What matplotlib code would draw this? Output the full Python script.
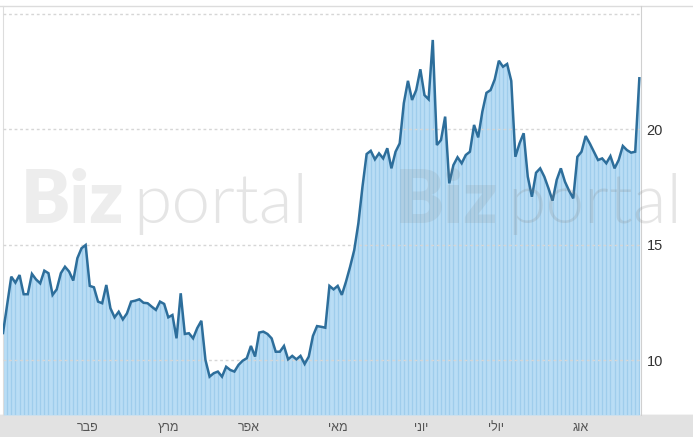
import numpy as np
import matplotlib.pyplot as plt
from matplotlib.patches import Rectangle
from matplotlib.lines import Line2D

# closing prices, one per trading day
prices = [
    11.18, 12.4, 13.62, 13.36, 13.69, 12.86, 12.86, 13.74, 13.5, 13.33, 13.88, 13.77,
    12.83, 13.07, 13.77, 14.05, 13.84, 13.45, 14.42, 14.85, 14.99, 13.22, 13.16, 12.54,
    12.47, 13.26,
    12.25, 11.86, 12.1, 11.77, 12.03, 12.54, 12.58, 12.64, 12.49, 12.47, 12.32, 12.18,
    12.54, 12.44, 11.86, 11.96, 10.95, 12.9, 11.14, 11.17, 10.95, 11.39, 11.71, 10.01,
    9.29, 9.44,
    9.51, 9.29, 9.72, 9.58, 9.51, 9.8, 9.98, 10.09, 10.62, 10.16, 11.2, 11.24, 11.14,
    10.95, 10.37, 10.37, 10.62, 10.04, 10.19, 10.04, 10.19, 9.84, 10.16, 11.05, 11.48,
    11.45, 11.41, 13.22, 13.07, 13.22,
    12.83, 13.4, 14.05, 14.77, 15.93, 17.52, 18.93, 19.07, 18.7, 18.96, 18.74, 19.18,
    18.31, 19.03, 19.39, 21.13, 22.1, 21.27, 21.7, 22.6, 21.48, 21.3, 23.87, 19.32,
    19.54, 20.55, 17.66, 18.45, 18.79, 18.53, 18.89, 19.03, 20.19, 19.65, 20.76, 21.58,
    21.7, 22.16, 22.97, 22.71, 22.83, 22.1, 18.81, 19.39, 19.83, 17.95, 17.08,
    18.12, 18.31, 17.95, 17.45, 16.91, 17.81, 18.31, 17.73, 17.34, 17.01, 18.81, 19.03,
    19.71, 19.39, 19.03, 18.67, 18.74, 18.53, 18.84, 18.31, 18.67, 19.28, 19.1, 18.99,
    19.03, 22.21,
]
months = ["פבר", "מרץ", "אפר", "מאי", "יוני", "יולי", "אוג"]
month_pos = [20.4, 40.1, 59.4, 81.0, 101.2, 119.2, 139.9]
yticks = [10, 15, 20]

plt.rcParams['font.family'] = ['Liberation Sans', 'DejaVu Sans']

W, H = 693, 440
fig = plt.figure(figsize=(W / 100, H / 100), dpi=100)

# gray date band under the plot
fig.patches.append(Rectangle((0, 3 / H), 1, 22 / H, transform=fig.transFigure,
                             facecolor="#e2e2e2", edgecolor="none", zorder=0))
fig.lines.append(Line2D([0, 1], [25 / H, 25 / H], transform=fig.transFigure,
                        color="#c4c4c4", lw=1, zorder=0))
# top border
fig.lines.append(Line2D([0, 1], [434 / H, 434 / H], transform=fig.transFigure,
                        color="#dcdcdc", lw=1, zorder=0))

ax = fig.add_axes([3 / W, 25 / H, 638 / W, 409 / H])
ax.set_zorder(2)
ax.patch.set_alpha(0)
x = np.arange(len(prices))
ymin, ymax = 7.63, 25.34
ax.set_xlim(0, len(prices) - 1 + 0.4)
ax.set_ylim(ymin, ymax)

ax.fill_between(x, ymin, prices, color="#b9ddf5", lw=0, zorder=1)
ax.vlines(x, ymin, prices, color="#9fcdec", lw=0.9, zorder=2)
ax.plot(x, prices, color="#2d6e9b", lw=1.8, zorder=4, solid_joinstyle="miter")

for v in [10, 15, 20, 25]:
    ax.axhline(v, color="#d6d6d6", lw=1, ls=(0, (2, 2)), zorder=3)

ax.yaxis.tick_right()
ax.set_yticks(yticks)
ax.set_yticklabels([str(t) for t in yticks], fontsize=10.5, color="#333333")
ax.tick_params(axis="y", length=0, pad=4)
ax.set_xticks(month_pos)
# matplotlib lays glyphs out left to right, so reverse the Hebrew for display
ax.set_xticklabels([m[::-1] for m in months], fontsize=9, color="#555555")
ax.tick_params(axis="x", length=0, pad=5)

for s in ["top", "bottom"]:
    ax.spines[s].set_visible(False)
ax.spines["left"].set_color("#dddddd")
ax.spines["right"].set_color("#d0d0d0")

# watermark
for x0 in [21, 395]:
    fig.text(x0 / W, (H - 223) / H, "Biz", fontsize=53, family="Lato",
             fontweight="heavy", color="#808080", alpha=0.14, zorder=10)
    fig.text((x0 + 112) / W, (H - 223) / H, "portal", fontsize=50, family="Lato",
             fontweight=300, color="#808080", alpha=0.2, zorder=10)

fig.savefig("out.png", dpi=100)
